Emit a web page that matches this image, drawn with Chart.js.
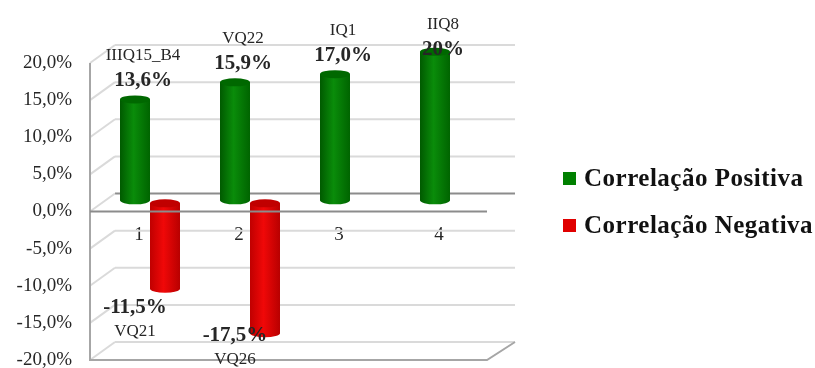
<!DOCTYPE html>
<html>
<head>
<meta charset="utf-8">
<script src="https://cdn.jsdelivr.net/npm/chart.js"></script>
<style>
  html, body { margin: 0; padding: 0; background: #fff; }
  #wrap { position: relative; width: 815px; height: 368px; }
  #legend {
    position: absolute; left: 563px; top: 160px;
    font-family: 'Liberation Serif', 'Times New Roman', serif;
    font-weight: bold; font-size: 25px; letter-spacing: 0.5px; color: #111;
  }
  #legend .item { display: flex; align-items: center; height: 36px; margin-bottom: 11px; white-space: nowrap; }
  #legend .box { width: 13px; height: 13px; margin-right: 8px; flex: none; }
</style>
</head>
<body>
<div id="wrap"><canvas id="corrChart"></canvas><div id="legend"></div></div>
<script>
const categories = ['1', '2', '3', '4'];
const positiveValues = [13.6, 15.9, 17.0, 20.0];
const negativeValues = [-11.5, -17.5, null, null];
const positiveLabels = ['13,6%', '15,9%', '17,0%', '20%'];
const negativeLabels = ['-11,5%', '-17,5%', '', ''];
const positiveNames = ['IIIQ15_B4', 'VQ22', 'IQ1', 'IIQ8'];
const negativeNames = ['VQ21', 'VQ26', '', ''];

const FONT = "'Liberation Serif', 'Times New Roman', serif";
const TEXT = '#262626';

// fake 3D: offsets of the front edge and the back wall from the plot area
const FRONT_DX = -10;
const FRONT_DXR = -13;
const BACK_DX = 15;
const BACK_DY = -18;

const wallPlugin = {
  id: 'walls',
  beforeDatasetsDraw(chart) {
    const ctx = chart.ctx;
    const area = chart.chartArea;
    const y = chart.scales.y;
    const fl = area.left + FRONT_DX, fr = area.right + FRONT_DXR;
    const bl = area.left + BACK_DX, br = area.right + BACK_DX;
    ctx.save();
    ctx.lineWidth = 2;
    y.ticks.forEach(t => {
      const yf = y.getPixelForValue(t.value);
      const yb = yf + BACK_DY;
      ctx.strokeStyle = t.value === 0 ? '#8c8c8c' : '#dadada';
      ctx.beginPath();
      ctx.moveTo(bl, yb);
      ctx.lineTo(br, yb);
      ctx.stroke();
      ctx.strokeStyle = '#dadada';
      ctx.beginPath();
      ctx.moveTo(fl, yf);
      ctx.lineTo(bl, yb);
      ctx.stroke();
    });
    const yTop = y.getPixelForValue(y.max), yBot = y.getPixelForValue(y.min);
    ctx.strokeStyle = '#a6a6a6';
    ctx.beginPath();
    ctx.moveTo(fl, yTop);
    ctx.lineTo(fl, yBot);
    ctx.lineTo(fr, yBot);
    ctx.lineTo(br, yBot + BACK_DY);
    ctx.stroke();
    ctx.restore();
  }
};

const cylinderPlugin = {
  id: 'cylinders',
  afterDatasetsDraw(chart) {
    const ctx = chart.ctx;
    chart.data.datasets.forEach((ds, i) => {
      const meta = chart.getDatasetMeta(i);
      meta.data.forEach((bar, j) => {
        if (ds.data[j] == null) return;
        const p = bar.getProps(['x', 'y', 'base', 'width'], true);
        const left = p.x - p.width / 2, right = p.x + p.width / 2;
        const top = Math.min(p.y, p.base), bottom = Math.max(p.y, p.base);
        const ry = 4;
        const grad = ctx.createLinearGradient(left, 0, right, 0);
        grad.addColorStop(0, ds.shade[0]);
        grad.addColorStop(0.45, ds.shade[1]);
        grad.addColorStop(1, ds.shade[2]);
        ctx.save();
        ctx.fillStyle = grad;
        ctx.beginPath();
        ctx.moveTo(left, top);
        ctx.lineTo(left, bottom);
        ctx.ellipse(p.x, bottom, p.width / 2, ry, 0, Math.PI, 0, true);
        ctx.lineTo(right, top);
        ctx.closePath();
        ctx.fill();
        ctx.fillStyle = ds.cap;
        ctx.beginPath();
        ctx.ellipse(p.x, top, p.width / 2, ry, 0, 0, Math.PI * 2);
        ctx.fill();
        ctx.restore();
      });
    });
    // front edge of the zero plane sits in front of the bars
    const area = chart.chartArea;
    const y0 = chart.scales.y.getPixelForValue(0);
    ctx.save();
    ctx.strokeStyle = '#8c8c8c';
    ctx.lineWidth = 2;
    ctx.beginPath();
    ctx.moveTo(area.left + FRONT_DX, y0);
    ctx.lineTo(area.right + FRONT_DXR, y0);
    ctx.stroke();
    ctx.restore();
  }
};

const labelPlugin = {
  id: 'valueLabels',
  afterDraw(chart) {
    const ctx = chart.ctx;
    ctx.save();
    ctx.fillStyle = TEXT;
    ctx.textAlign = 'center';
    ctx.textBaseline = 'middle';
    chart.getDatasetMeta(0).data.forEach((bar, j) => {
      const x = bar.x + 8;
      const vy = Math.max(bar.y - 19, 50);
      ctx.font = 'bold 21px ' + FONT;
      ctx.fillText(positiveLabels[j], x, vy);
      ctx.font = '17px ' + FONT;
      ctx.fillText(positiveNames[j], x, vy - 25);
    });
    chart.getDatasetMeta(1).data.forEach((bar, j) => {
      if (negativeValues[j] == null) return;
      const x = bar.x - 30;
      const vy = Math.min(bar.y + 19, 336);
      ctx.font = 'bold 21px ' + FONT;
      ctx.fillText(negativeLabels[j], x, vy);
      ctx.font = '17px ' + FONT;
      ctx.fillText(negativeNames[j], x, vy + 24);
    });
    ctx.restore();
  }
};

const chart = new Chart(document.getElementById('corrChart'), {
  type: 'bar',
  data: {
    labels: categories,
    datasets: [{
      label: 'Correlação Positiva',
      data: positiveValues,
      backgroundColor: '#008000',
      borderWidth: 0,
      yAxisID: 'yPos',
      shade: ['#005a00', '#0a8c0a', '#006400'],
      cap: '#006800'
    }, {
      label: 'Correlação Negativa',
      data: negativeValues,
      backgroundColor: '#e00000',
      borderWidth: 0,
      yAxisID: 'yNeg',
      shade: ['#c00000', '#f00808', '#b80000'],
      cap: '#c00000'
    }]
  },
  options: {
    responsive: true,
    maintainAspectRatio: false,
    animation: false,
    datasets: {
      bar: { categoryPercentage: 0.6, barPercentage: 1 }
    },
    layout: { padding: { left: 16, top: 63, bottom: 8, right: 315 } },
    plugins: {
      tooltip: { enabled: false },
      legend: { display: false }
    },
    scales: {
      x: {
        position: { y: 0 },
        grid: { display: false, drawTicks: false },
        border: { display: false },
        ticks: {
          color: TEXT,
          padding: 12,
          labelOffset: -11,
          font: { family: FONT, size: 19 }
        },
        afterFit: s => { s.height = 0; }
      },
      y: {
        position: 'left',
        min: -20,
        max: 20,
        grid: {
          display: true,
          drawOnChartArea: false,
          drawTicks: true,
          tickLength: 30,
          color: 'rgba(0,0,0,0)'
        },
        border: { display: false },
        ticks: {
          stepSize: 5,
          padding: -2,
          color: TEXT,
          font: { family: FONT, size: 19, lineHeight: 1 },
          callback: v => v.toFixed(1).replace('.', ',') + '%'
        },
        afterFit: s => { s.width = 84; }
      },
      yPos: { display: false, min: -21.5, max: 18.5 },
      yNeg: { display: false, min: -21.1, max: 18.9 }
    }
  },
  plugins: [wallPlugin, cylinderPlugin, labelPlugin]
});

// legend as html, built from the datasets
const legendEl = document.getElementById('legend');
chart.data.datasets.forEach(ds => {
  const item = document.createElement('div');
  item.className = 'item';
  const box = document.createElement('span');
  box.className = 'box';
  box.style.background = ds.backgroundColor;
  const txt = document.createElement('span');
  txt.textContent = ds.label;
  item.appendChild(box);
  item.appendChild(txt);
  legendEl.appendChild(item);
});
</script>
</body>
</html>
